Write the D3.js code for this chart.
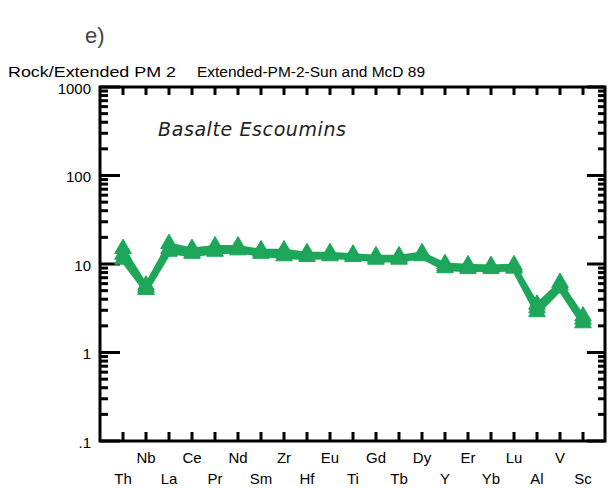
<!DOCTYPE html>
<html><head><meta charset="utf-8">
<script src="https://cdn.jsdelivr.net/npm/d3@7"></script>
<style>body{margin:0;background:#fff}svg{display:block}</style>
</head><body>
<svg id="c" width="608" height="488"></svg>
<script>
const elements = ["Th","Nb","La","Ce","Pr","Nd","Sm","Zr","Hf","Eu","Ti","Gd","Tb","Dy","Y","Er","Yb","Lu","Al","V","Sc"];
const sampleA = [14.5,5.6,16.5,14.5,15.5,15.5,14.0,14.0,13.0,13.0,12.5,12.0,12.0,13.0,9.8,9.5,9.3,9.5,3.4,6.0,2.5];
const sampleB = [12.5,5.3,14.5,13.5,14.5,14.5,13.5,13.0,12.5,12.5,12.2,11.5,11.5,12.5,9.2,9.0,9.0,9.0,3.1,5.6,2.3];
const sampleC = [11.0,5.0,13.5,12.8,13.5,14.0,12.8,12.0,11.8,12.0,11.8,11.0,11.0,12.0,8.8,8.6,8.6,8.7,2.8,5.2,2.1];
const yTicks = [1000,100,10,1,0.1];
const yTickLabels = ["1000","100","10","1",".1"];
const titleLeft = "Rock/Extended PM 2";
const titleRight = "Extended-PM-2-Sun and McD 89";
const panel = "e)";
const sampleName = "Basalte Escoumins";

const svg = d3.select("#c");
const green = "#1ea65a";
const L = 100, R = 605, T = 87, B = 441;
const x = d3.scaleLinear().domain([0, elements.length + 1]).range([L, L + 23 * (elements.length + 1)]);
const y = d3.scaleLog().domain([0.1, 1000]).range([B, T]);
const font = "'Liberation Sans', Arial, sans-serif";

svg.append("text").attr("x", 85).attr("y", 43).attr("font-family", font)
  .attr("font-size", 22).attr("fill", "#444").text(panel);
svg.append("text").attr("x", 8).attr("y", 77).attr("font-family", font)
  .attr("font-size", 14).attr("fill", "#000").attr("textLength", 168)
  .attr("lengthAdjust", "spacingAndGlyphs").text(titleLeft);
svg.append("text").attr("x", 197).attr("y", 77).attr("font-family", font)
  .attr("font-size", 14).attr("fill", "#000").attr("textLength", 228)
  .attr("lengthAdjust", "spacingAndGlyphs").text(titleRight);

// frame
const g = svg.append("g");
g.append("rect").attr("x", L).attr("y", T).attr("width", R - L).attr("height", B - T)
  .attr("fill", "none").attr("stroke", "#000").attr("stroke-width", 3);

// y ticks (log minor + major) left & right
const minor = [];
for (let e = -1; e < 3; e++) for (let m = 2; m <= 9; m++) minor.push(m * Math.pow(10, e));
minor.forEach(v => {
  g.append("line").attr("x1", L).attr("x2", L + 8).attr("y1", y(v)).attr("y2", y(v)).attr("stroke", "#000").attr("stroke-width", 3);
  g.append("line").attr("x1", R - 7).attr("x2", R).attr("y1", y(v)).attr("y2", y(v)).attr("stroke", "#000").attr("stroke-width", 3);
});
yTicks.forEach((v, i) => {
  g.append("line").attr("x1", L).attr("x2", L + 20).attr("y1", y(v)).attr("y2", y(v)).attr("stroke", "#000").attr("stroke-width", 3);
  g.append("line").attr("x1", R - 18).attr("x2", R).attr("y1", y(v)).attr("y2", y(v)).attr("stroke", "#000").attr("stroke-width", 3);
  g.append("text").attr("x", 91).attr("y", y(v) + 6.5).attr("text-anchor", "end")
    .attr("font-family", font).attr("font-size", 15).text(yTickLabels[i]);
});

// x ticks and labels
elements.forEach((el, i) => {
  const xi = x(i + 1);
  g.append("line").attr("x1", xi).attr("x2", xi).attr("y1", T).attr("y2", T + 8).attr("stroke", "#000").attr("stroke-width", 3);
  g.append("line").attr("x1", xi).attr("x2", xi).attr("y1", B).attr("y2", B - 9).attr("stroke", "#000").attr("stroke-width", 3);
  g.append("text").attr("x", xi).attr("y", i % 2 === 1 ? 463 : 484).attr("text-anchor", "middle")
    .attr("font-family", font).attr("font-size", 15).text(el);
});

svg.append("text").attr("x", 158).attr("y", 136).attr("font-family", "'DejaVu Sans', sans-serif")
  .attr("font-style", "italic").attr("font-size", 19).attr("fill", "#222").attr("letter-spacing", 0.6).text(sampleName);

// data
const line = d3.line().x((d, i) => x(i + 1)).y(d => y(d));
const tri = d3.symbol().type(d3.symbolTriangle).size(120);
[sampleA, sampleB, sampleC].forEach(s => {
  svg.append("path").attr("d", line(s)).attr("fill", "none").attr("stroke", green).attr("stroke-width", 4.5);
});
[sampleA, sampleB, sampleC].forEach(s => {
  svg.selectAll(null).data(s).enter().append("path")
    .attr("d", tri).attr("transform", (d, i) => `translate(${x(i + 1)},${y(d) - 1})`)
    .attr("fill", green).attr("stroke", green).attr("stroke-width", 1);
});
</script>
</body></html>
